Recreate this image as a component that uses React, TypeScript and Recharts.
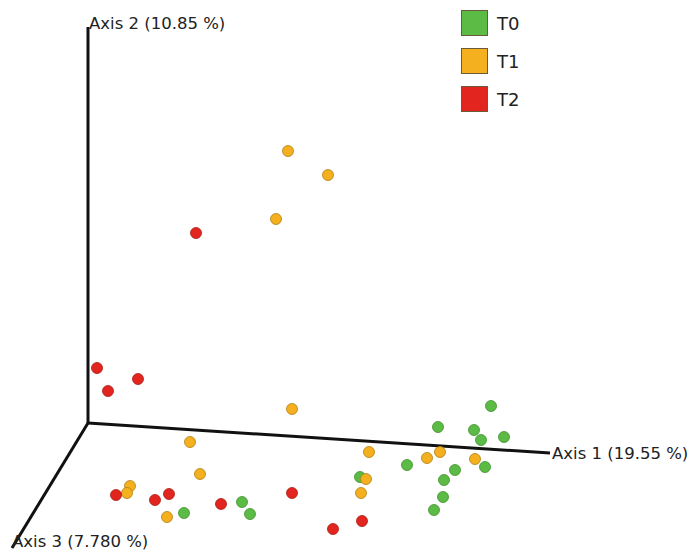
import React from 'react';
import { ScatterChart, Scatter, XAxis, YAxis, ReferenceLine, ReferenceDot } from 'recharts';

// Projected ordination coordinates (screen-projected units, y upwards)
const t0X = [491, 438, 474, 481, 504, 407, 485, 455, 360, 444, 443, 434, 242, 250, 184];
const t0Y = [146, 125, 122, 112, 115, 87, 85, 82, 75, 72, 55, 42, 50, 38, 39];
const t1X = [288, 328, 276, 292, 190, 200, 130, 127, 167, 369, 427, 440, 475, 366, 361];
const t1Y = [401, 377, 333, 143, 110, 78, 66, 59, 35, 100, 94, 100, 93, 73, 59];
const t2X = [196, 97, 138, 108, 116, 155, 169, 221, 292, 333, 362];
const t2Y = [319, 184, 173, 161, 57, 52, 58, 48, 59, 23, 31];

const groups = ['T0', 'T1', 'T2'];
const colors = ['#5cbb45', '#f4b01f', '#e2261f'];
const strokes = ['#3f8f2c', '#b07f10', '#a81a14'];

const axisOrigin = { x: 88, y: 129 };
const axis1End = { x: 550, y: 99 };
const axis2End = { x: 88, y: 525 };
const axis3End = { x: 12, y: 4 };
const axisLabels = ['Axis 1 (19.55 %)', 'Axis 2 (10.85 %)', 'Axis 3 (7.780 %)'];

const toPoints = (xs: number[], ys: number[]) => xs.map((x, i) => ({ x, y: ys[i] }));
const series = [toPoints(t0X, t0Y), toPoints(t1X, t1Y), toPoints(t2X, t2Y)];

const makeShape = (idx: number) => (props: any) => (
  <circle cx={props.cx} cy={props.cy} r={5.5} fill={colors[idx]} stroke={strokes[idx]} strokeWidth={0.8} />
);

const LegendBox = () => (
  <div style={{ position: 'absolute', left: 461, top: 10, fontFamily: 'DejaVu Sans, sans-serif' }}>
    {groups.map((g, i) => (
      <div key={g} style={{ display: 'flex', alignItems: 'center', height: 26, marginBottom: 12 }}>
        <div style={{ width: 27, height: 26, background: colors[i], border: '1px solid #6b5a3a', boxSizing: 'border-box' }} />
        <span style={{ marginLeft: 9, fontSize: 18, color: '#222' }}>{g}</span>
      </div>
    ))}
  </div>
);

const labelStyle = { fontFamily: 'DejaVu Sans, sans-serif', fontSize: 16.5, fill: '#222' };

export default function App() {
  return (
    <div style={{ position: 'absolute', left: 0, top: 0, width: 693, height: 552, background: '#fff' }}>
      <ScatterChart width={693} height={552} margin={{ top: 0, right: 0, bottom: 0, left: 0 }}>
        <XAxis type="number" dataKey="x" domain={[0, 693]} hide />
        <YAxis type="number" dataKey="y" domain={[0, 552]} hide />
        <ReferenceLine segment={[axisOrigin, axis2End]} stroke="#111" strokeWidth={3} />
        <ReferenceLine segment={[axisOrigin, axis1End]} stroke="#111" strokeWidth={3} />
        <ReferenceLine segment={[axisOrigin, axis3End]} stroke="#111" strokeWidth={3} />
        <ReferenceDot x={axis1End.x} y={axis1End.y} r={0} stroke="none" label={{ value: axisLabels[0], position: 'right', offset: 2, ...labelStyle }} />
        <ReferenceDot x={axis2End.x} y={axis2End.y + 4} r={0} stroke="none" label={{ value: axisLabels[1], position: 'right', offset: 1, ...labelStyle }} />
        <ReferenceDot x={axis3End.x} y={axis3End.y + 7} r={0} stroke="none" label={{ value: axisLabels[2], position: 'right', offset: 0, ...labelStyle }} />
        {series.map((d, i) => (
          <Scatter key={groups[i]} name={groups[i]} data={d} fill={colors[i]} shape={makeShape(i)} isAnimationActive={false} />
        ))}
      </ScatterChart>
      <LegendBox />
    </div>
  );
}
